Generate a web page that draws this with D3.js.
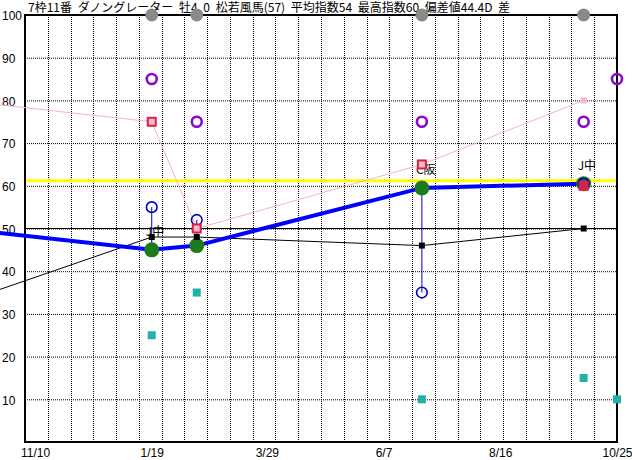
<!DOCTYPE html>
<html><head><meta charset="utf-8">
<script src="https://cdn.jsdelivr.net/npm/d3@7"></script>
<style>
html,body{margin:0;padding:0;background:#fff;}
svg{display:block;}
</style></head>
<body>
<svg id="chart" width="632" height="460"></svg>
<script>
// ---- data ----
const titleText = "7枠11番 ダノングレーター 牡4 0 松若風馬(57) 平均指数54 最高指数60 偏差値44.4D 差";
const xTickLabels = ["2024-11-10","2025-01-19","2025-03-29","2025-06-07","2025-08-16","2025-10-25"];
const yTicks = [10,20,30,40,50,60,70,80,90,100];
// line series (first point is a race before the visible range)
const lineDates = ["2024-09-26","2025-01-19","2025-02-15","2025-06-30","2025-10-05"];
const blueIndex = [50, 45, 46, 59.5, 60.5];
const blackIndex = [32.5, 48, 48, 46, 50];
const pinkIndex = [80, 75, 50, 65, 80];
// marker series at past races
const raceDates = ["2025-01-19","2025-02-15","2025-06-30","2025-10-05"];
const greenIndex = [45, 46, 59.5, 60.5];
const blueCircle = [55, 52, 35, 60.5];
const redSquare = [75, 50, 65, 60];
const courseLabels = ["J中", "", "C阪", "J中"];
// purple / teal include the upcoming race on 10/25
const markDates = ["2025-01-19","2025-02-15","2025-06-30","2025-10-05","2025-10-25"];
const purpleIndex = [85, 75, 75, 75, 85];
const tealIndex = [25, 35, 10, 15, 10];
const avgLine = 61.2;
const baseLine = 50;

// ---- layout ----
const parse = d3.timeParse("%Y-%m-%d");
const fmt = d3.timeFormat("%-m/%-d");
const L = 25, R = 617, T = 15, B = 442;
const x = d3.scaleTime().domain([parse(xTickLabels[0]), parse(xTickLabels[xTickLabels.length-1])]).range([35, 617]);
const y = d3.scaleLinear().domain([0, 100]).range([B, T]);
const gx = d3.scaleLinear().domain([0, 26]).range([L, R]);

const svg = d3.select("#chart");
const txtFont = "Arial, 'Liberation Sans', sans-serif";
const jpFont = "'Noto Sans CJK JP', sans-serif";

// grid
svg.append("g").selectAll("line").data(yTicks.filter(v => v < 100)).join("line")
  .attr("x1", L).attr("x2", R).attr("y1", d => y(d) + 0.5).attr("y2", d => y(d) + 0.5)
  .attr("stroke", "#000").attr("stroke-width", 1).attr("stroke-dasharray", "1,1");
svg.append("g").selectAll("line").data(d3.range(1, 26)).join("line")
  .attr("x1", d => Math.round(gx(d)) + 0.5).attr("x2", d => Math.round(gx(d)) + 0.5)
  .attr("y1", T).attr("y2", B)
  .attr("stroke", "#000").attr("stroke-width", 1).attr("stroke-dasharray", "1,1");

// reference lines
svg.append("line").attr("x1", L).attr("x2", R).attr("y1", y(baseLine)).attr("y2", y(baseLine))
  .attr("stroke", "#000").attr("stroke-width", 1);
svg.append("line").attr("x1", L).attr("x2", R).attr("y1", y(avgLine)).attr("y2", y(avgLine))
  .attr("stroke", "#ffff00").attr("stroke-width", 3);

// border
svg.append("rect").attr("x", L).attr("y", T).attr("width", R - L).attr("height", B - T)
  .attr("fill", "none").attr("stroke", "#000").attr("stroke-width", 2);

// y labels
svg.append("g").selectAll("text").data(yTicks).join("text")
  .attr("x", 2).attr("y", d => y(d) + 1).attr("dy", "0.35em")
  .attr("font-family", txtFont).attr("font-size", 12).attr("fill", "#000")
  .text(d => d);

// x axis labels via d3 axis
const xAxis = d3.axisBottom(x).tickValues(xTickLabels.map(parse)).tickFormat(fmt).tickSize(0).tickPadding(0);
const ax = svg.append("g").attr("transform", `translate(0,${B + 4})`).call(xAxis);
ax.select(".domain").remove();
ax.selectAll("text").attr("font-family", txtFont).attr("font-size", 12).attr("fill", "#000").attr("dy", "0.9em");

// title
svg.append("text").attr("x", 28).attr("y", 12).attr("font-family", jpFont).attr("font-size", 12)
  .attr("word-spacing", 3).attr("fill", "#000").text(titleText);

// course labels
svg.append("g").selectAll("text").data(raceDates.map((d, i) => ({d, v: greenIndex[i], t: courseLabels[i]})).filter(o => o.t))
  .join("text").attr("x", o => x(parse(o.d)) - 6).attr("y", o => y(o.v) - 14)
  .attr("font-family", jpFont).attr("font-size", 12).attr("fill", "#000").text(o => o.t);

// lines
const lineGen = vals => d3.line().x((d, i) => x(parse(lineDates[i]))).y(d => y(d))(vals);
svg.append("path").attr("d", lineGen(pinkIndex)).attr("fill", "none").attr("stroke", "#f4b4bf").attr("stroke-width", 1);
svg.append("path").attr("d", lineGen(blackIndex)).attr("fill", "none").attr("stroke", "#000").attr("stroke-width", 1);
svg.append("path").attr("d", lineGen(blueIndex)).attr("fill", "none").attr("stroke", "#0000ff").attr("stroke-width", 4);

const races = raceDates.map((d, i) => ({x: x(parse(d)), g: greenIndex[i], b: blueCircle[i], r: redSquare[i], k: blackIndex[i+1], p: pinkIndex[i+1]}));

// blue vertical connectors
svg.append("g").selectAll("line").data(races).join("line")
  .attr("x1", d => d.x).attr("x2", d => d.x).attr("y1", d => y(d.b)).attr("y2", d => y(d.g))
  .attr("stroke", "#0000cc").attr("stroke-width", 1);
// green circles
svg.append("g").selectAll("circle").data(races).join("circle")
  .attr("cx", d => d.x).attr("cy", d => y(d.g)).attr("r", 7.5).attr("fill", "#1c7c1c");
// blue open circles
svg.append("g").selectAll("circle").data(races).join("circle")
  .attr("cx", d => d.x).attr("cy", d => y(d.b)).attr("r", 5.3)
  .attr("fill", "none").attr("stroke", "#0000cc").attr("stroke-width", 1.6);
// black squares
svg.append("g").selectAll("rect").data(races).join("rect")
  .attr("x", d => d.x - 3).attr("y", d => y(d.k) - 3).attr("width", 6).attr("height", 6).attr("fill", "#000");
// red squares
svg.append("g").selectAll("rect").data(races).join("rect")
  .attr("x", d => d.x - 5).attr("y", d => y(d.r) - 5).attr("width", 10).attr("height", 10).attr("fill", "#d8204a");
// pink squares
svg.append("g").selectAll("rect").data(races).join("rect")
  .attr("x", d => d.x - 3).attr("y", d => y(d.p) - 3).attr("width", 6).attr("height", 6).attr("fill", "#f8b8c4");

const marks = markDates.map((d, i) => ({x: x(parse(d)), p: purpleIndex[i], t: tealIndex[i]}));
// purple circles
svg.append("g").selectAll("circle").data(marks).join("circle")
  .attr("cx", d => d.x).attr("cy", d => y(d.p)).attr("r", 5)
  .attr("fill", "none").attr("stroke", "#8a08c8").attr("stroke-width", 2.6);
// teal squares
svg.append("g").selectAll("rect").data(marks).join("rect")
  .attr("x", d => d.x - 4).attr("y", d => y(d.t) - 4).attr("width", 8).attr("height", 8).attr("fill", "#22b0a8");
// grey race markers
svg.append("g").selectAll("circle").data(races).join("circle")
  .attr("cx", d => d.x).attr("cy", y(100)).attr("r", 6.5).attr("fill", "#8a8a8a");
</script>
</body></html>
